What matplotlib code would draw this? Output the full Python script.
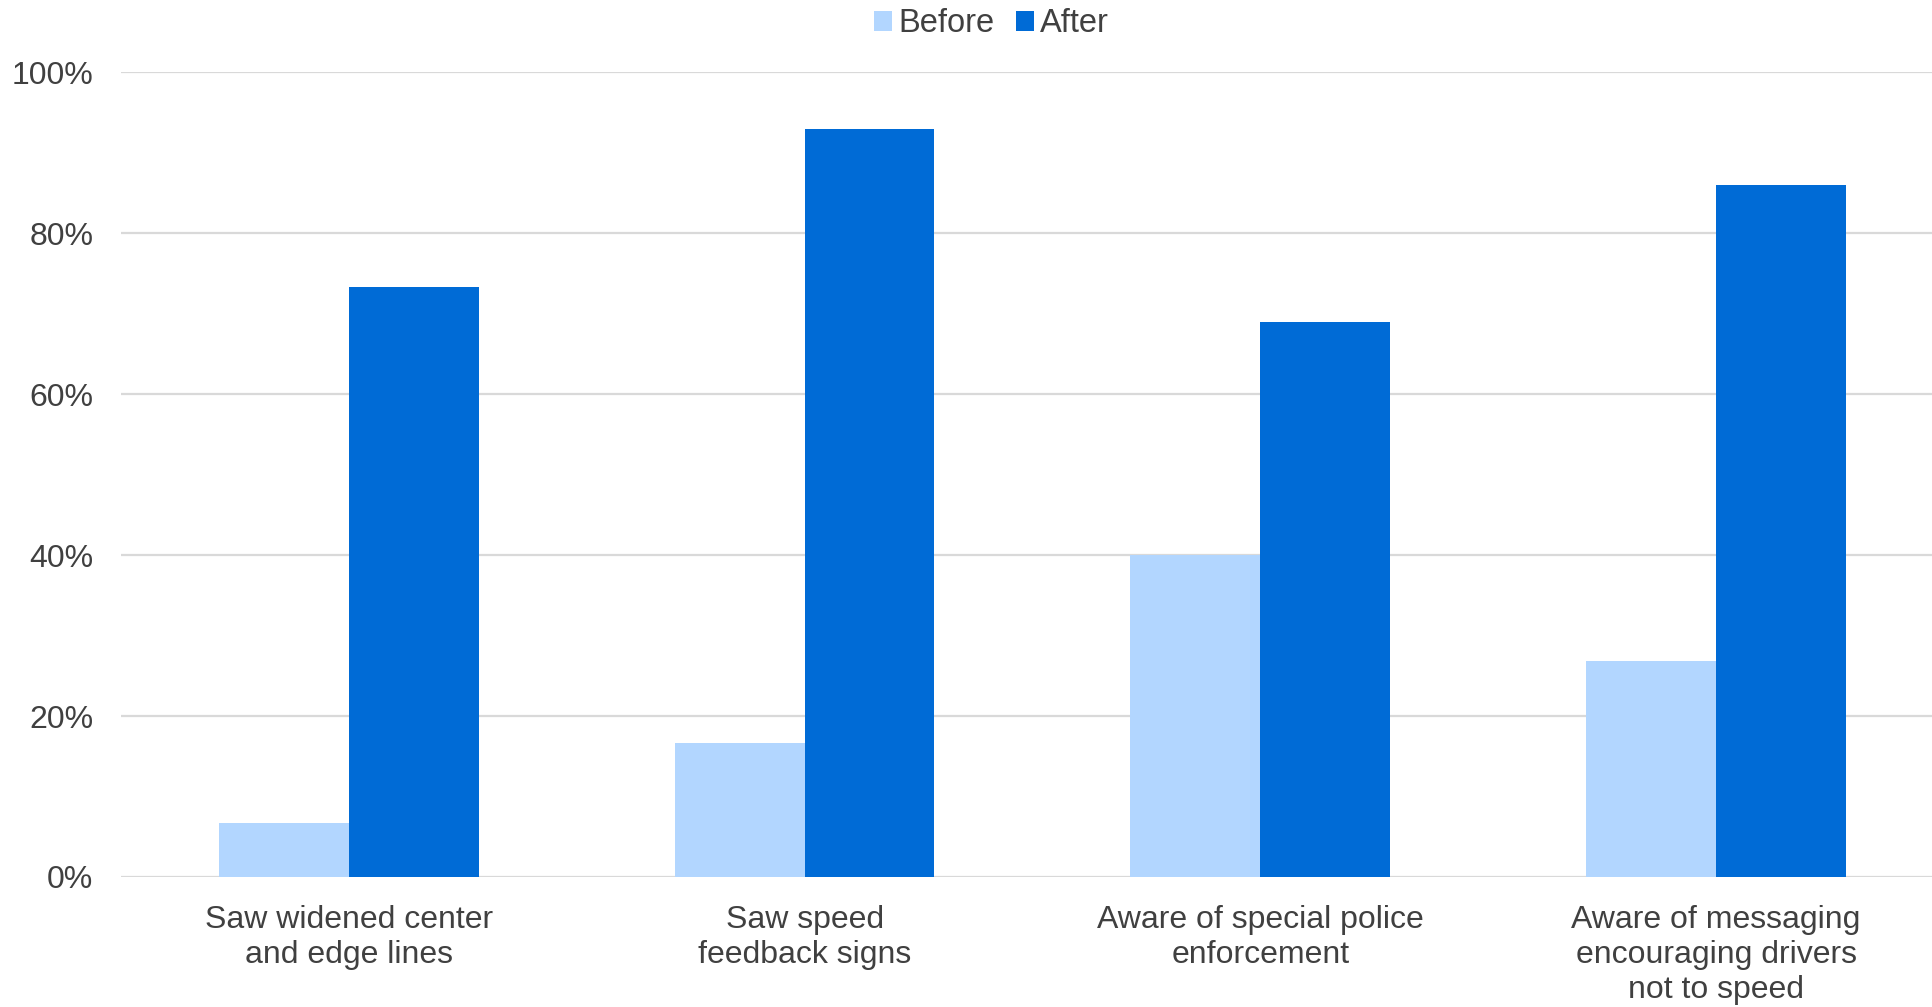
import numpy as np
import matplotlib.pyplot as plt
from matplotlib.ticker import PercentFormatter

categories = [
    "Saw widened center\nand edge lines",
    "Saw speed\nfeedback signs",
    "Aware of special police\nenforcement",
    "Aware of messaging\nencouraging drivers\nnot to speed",
]
before = [6.7, 16.7, 40.0, 26.9]
after = [73.3, 93.0, 69.0, 86.0]
series_names = ["Before", "After"]
yticks = [0, 20, 40, 60, 80, 100]

plt.rcParams['font.family'] = ['Liberation Sans', 'DejaVu Sans']
text_color = "#404040"
grid_color = "#d9d9d9"
colors = ["#b2d6ff", "#006bd6"]

fig = plt.figure(figsize=(19.33, 10.07), dpi=100)
ax = fig.add_axes([121 / 1933, 130 / 1007, 1 - 121 / 1933, 804.5 / 1007])

x = np.arange(len(categories))
width = 0.285
ax.bar(x - width / 2, before, width, color=colors[0], label=series_names[0], zorder=3)
ax.bar(x + width / 2, after, width, color=colors[1], label=series_names[1], zorder=3)

ax.set_ylim(0, 100)
ax.set_xlim(-0.5, 3.476)
ax.set_yticks(yticks)
ax.yaxis.set_major_formatter(PercentFormatter(decimals=0))
ax.set_xticks(x)
ax.set_xticklabels(categories, linespacing=1.23)

ax.grid(axis="y", color=grid_color, linewidth=1.6, zorder=0)
ax.tick_params(axis="both", length=0, labelsize=23, labelcolor=text_color)
ax.tick_params(axis="y", pad=20)
ax.tick_params(axis="x", pad=20)
for spine in ax.spines.values():
    spine.set_visible(False)

fig.legend(
    loc="upper center", bbox_to_anchor=(0.513, 1.021), ncol=2, frameon=False,
    fontsize=23.5, labelcolor=text_color, handlelength=0.55, handleheight=0.55,
    handletextpad=0.2, columnspacing=0.65,
)

fig.savefig("out.png", dpi=100, facecolor="white")
